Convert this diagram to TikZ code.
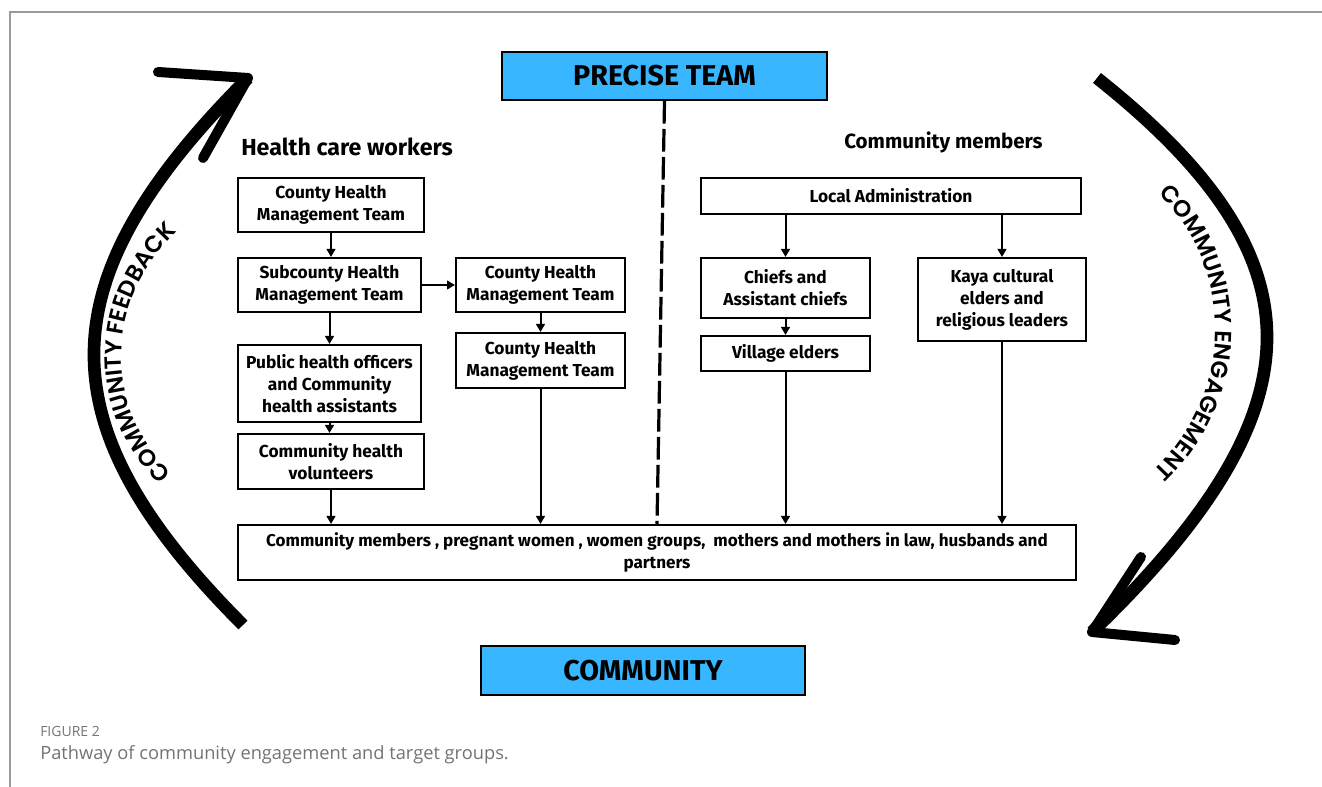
\documentclass[tikz,border=0pt]{standalone}
\usepackage{fontspec}
\setmainfont{Fira Sans}
\newfontfamily\capfont{Open Sans}
\newfontfamily\arcfont{Poppins SemiBold}
\usetikzlibrary{arrows.meta,decorations.text,calc}
\definecolor{skyfill}{HTML}{38B6FF}
\definecolor{framegray}{HTML}{9A9A9A}
\definecolor{capgray}{HTML}{737373}

\begin{document}
\begin{tikzpicture}[x=0.75pt,y=-0.75pt,
  box/.style={draw=black,line width=1.5pt,align=center,inner sep=0pt,
    font=\bfseries\fontsize{13}{16.5}\selectfont},
  teambox/.style={draw=black,line width=1.5pt,fill=skyfill,inner sep=0pt,
    font=\bfseries\fontsize{21.5}{23}\selectfont},
  heading/.style={inner sep=0pt,anchor=west},
  flow/.style={line width=1.5pt,-{Triangle[length=6pt,width=6.5pt]}},
  bigarc/.style={line width=9.5pt},
  barb/.style={line width=7.5pt,line cap=round,line join=round},
  arclabel/.style={decorate,decoration={text along path,text align=center,
    text={|\arcfont\fontsize{17.5}{18}\selectfont|#1}}},
]
\useasboundingbox (0,0) rectangle (1322,787);

% page frame
\draw[framegray,line width=0.9pt] (10,787) -- (10,12) -- (1322,12);

% top and bottom team boxes
\node[teambox,minimum width=243.75pt,minimum height=36pt] (precise) at (664.5,76) {PRECISE TEAM};
\node[teambox,minimum width=243pt,minimum height=36.75pt] (community) at (643,670.5) {COMMUNITY};

% headings
\node[heading,font=\bfseries\fontsize{17.4}{20}\selectfont] (hcw) at (241,147) {Health care workers};
\node[heading,font=\bfseries\fontsize{15.4}{18}\selectfont] (cm) at (844,142) {Community members};

% health care worker chain
\node[box,minimum width=139.5pt,minimum height=40.5pt] (chmtA) at (331,205) {County Health\\Management Team};
\node[box,minimum width=137.25pt,minimum height=40.5pt] (schmt) at (329.5,285) {Subcounty Health\\Management Team};
\node[box,minimum width=137.25pt,minimum height=57.75pt] (pho) at (329.5,383.5) {Public health officers\\and Community\\health assistants};
\node[box,minimum width=139.5pt,minimum height=41.25pt] (chv) at (331,461.5) {Community health\\volunteers};
\node[box,minimum width=126.75pt,minimum height=40.5pt] (chmtB) at (540.5,285) {County Health\\Management Team};
\node[box,minimum width=126.75pt,minimum height=41.25pt] (chmtC) at (540.5,360.5) {County Health\\Management Team};

% community leadership chain
\node[box,minimum width=285pt,minimum height=27pt] (locadm) at (891,196) {Local Administration};
\node[box,minimum width=126.75pt,minimum height=45pt] (chiefs) at (785.5,288) {Chiefs and\\Assistant chiefs};
\node[box,minimum width=126.75pt,minimum height=26.25pt] (village) at (785.5,353.5) {Village elders};
\node[box,minimum width=126pt,minimum height=62.25pt] (kaya) at (1002,299.5) {Kaya cultural\\elders and\\religious leaders};

% target groups
\node[box,minimum width=628.5pt,minimum height=41.25pt,font=\bfseries\fontsize{12.8}{16.5}\selectfont] (target) at (657,552.5)
  {Community members , pregnant women , women groups,\ \ mothers and mothers in law, husbands and\\partners};

% divider between the two sides
\draw[line width=2.4pt,dash pattern=on 17pt off 4pt] (precise.south) -- (target.north);

% connectors
\draw[flow] (chmtA.south) -- (chmtA.south |- schmt.north);
\draw[flow] (schmt.south) -- (pho.north);
\draw[flow] (pho.south) -- (pho.south |- chv.north);
\draw[flow] (chv.south) -- (chv.south |- target.north);
\draw[flow] (schmt.east) -- (schmt.east -| chmtB.west);
\draw[flow] (chmtB.south) -- (chmtC.north);
\draw[flow] (chmtC.south) -- (chmtC.south |- target.north);
\draw[flow] (locadm.south -| chiefs.north) -- (chiefs.north);
\draw[flow] (locadm.south -| kaya.north) -- (kaya.north);
\draw[flow] (chiefs.south) -- (village.north);
\draw[flow] (village.south) -- (village.south |- target.north);
\draw[flow] (kaya.south) -- (kaya.south |- target.north);

% feedback loop (left)
\coordinate (lstart) at (243,625);
\coordinate (ltip) at (248,78);
\draw[bigarc] (lstart) .. controls (41,423) and (46,280) .. (ltip);
\draw[barb] (158,72) -- (ltip) -- (203,158);
\path[arclabel={COMMUNITY FEEDBACK}] (192,490) .. controls (97,420) and (97,290) .. (197,215);

% engagement loop (right)
\coordinate (rstart) at (1097,78);
\coordinate (rtip) at (1092,632);
\draw[bigarc] (rstart) .. controls (1325,259) and (1324,408) .. (rtip);
\draw[barb] (1141,557) -- (rtip) -- (1175,640);
\path[arclabel={COMMUNITY ENGAGEMENT}] (1115,160) .. controls (1250,240) and (1250,420) .. (1110,505);

% caption
\node[heading,font=\capfont\fontsize{10.5}{12}\selectfont,text=capgray] (figno) at (40,732) {FIGURE 2};
\node[heading,font=\capfont\fontsize{13.7}{16}\selectfont,text=capgray] (figcap) at (40,755) {Pathway of community engagement and target groups.};
\end{tikzpicture}
\end{document}
